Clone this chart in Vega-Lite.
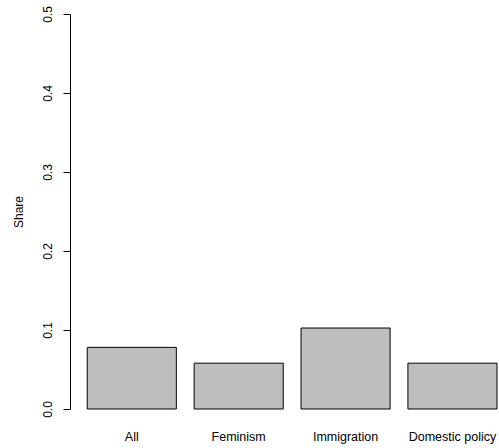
{
  "$schema": "https://vega.github.io/schema/vega-lite/v6.json",
  "autosize": {"type": "none"},
  "width": 429,
  "height": 395,
  "padding": {"left": 70, "top": 14, "right": 0, "bottom": 39},
  "background": "white",
  "config": {
    "view": {"stroke": null},
    "font": "Liberation Sans",
    "axis": {"labelFont": "Liberation Sans", "titleFont": "Liberation Sans", "labelColor": "black", "titleColor": "black", "grid": false}
  },
  "data": {
    "values": [
      {"category": "All", "share": 0.078},
      {"category": "Feminism", "share": 0.058},
      {"category": "Immigration", "share": 0.1025},
      {"category": "Domestic policy", "share": 0.058}
    ]
  },
  "mark": {"type": "bar", "fill": "#bebebe", "stroke": "black", "strokeWidth": 1},
  "encoding": {
    "x": {
      "field": "category",
      "type": "nominal",
      "sort": null,
      "scale": {"paddingInner": 0.1665, "paddingOuter": 0.09, "align": 0.896},
      "axis": {
        "title": null,
        "labelAngle": 0,
        "domain": false,
        "ticks": false,
        "tickSize": 0,
        "labelFontSize": 12.5,
        "labelBaseline": "alphabetic",
        "labelPadding": 31
      }
    },
    "y": {
      "field": "share",
      "type": "quantitative",
      "scale": {"domain": [0, 0.5], "nice": false, "zero": true},
      "axis": {
        "title": "Share",
        "titleFontSize": 12,
        "titleFontWeight": "normal",
        "titleAngle": -90,
        "titleAlign": "center",
        "titleBaseline": "middle",
        "titleX": -52,
        "values": [0, 0.1, 0.2, 0.3, 0.4, 0.5],
        "format": ".1f",
        "labelAngle": -90,
        "labelAlign": "center",
        "labelBaseline": "bottom",
        "labelPadding": 9,
        "labelFontSize": 12,
        "tickSize": 7,
        "tickColor": "black",
        "domainColor": "black",
        "labelFlush": false,
        "labelOverlap": false
      }
    }
  }
}
